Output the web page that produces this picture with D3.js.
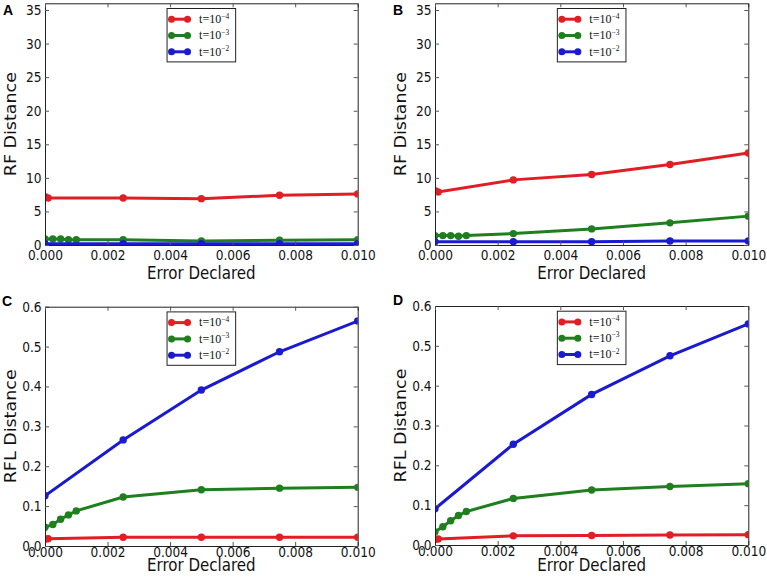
<!DOCTYPE html>
<html>
<head>
<meta charset="utf-8">
<script src="https://cdn.jsdelivr.net/npm/d3@7"></script>
<style>
  body { margin: 0; background: #fff; }
  svg { display: block; }
</style>
</head>
<body>
<svg id="chart" width="767" height="580"></svg>
<script>
// x positions (error declared) for each series
const xRed = [0, 0.0001, 0.0025, 0.005, 0.0075, 0.01]
const xGreen = [0, 0.00025, 0.0005, 0.00075, 0.001, 0.0025, 0.005, 0.0075, 0.01]
const xBlue = [0, 0.0025, 0.005, 0.0075, 0.01]

// A: RF distance
const aRed = [7.2, 7.0, 7.0, 6.9, 7.4, 7.6]
const aGreen = [0.9, 0.9, 0.9, 0.8, 0.8, 0.8, 0.6, 0.7, 0.8]
const aBlue = [0.2, 0.2, 0.2, 0.2, 0.2]
// B: RF distance
const bRed = [8.1, 7.9, 9.7, 10.5, 12.0, 13.7]
const bGreen = [1.4, 1.4, 1.4, 1.3, 1.4, 1.7, 2.4, 3.3, 4.3]
const bBlue = [0.5, 0.5, 0.5, 0.6, 0.6]
// C: RFL distance
const cRed = [0.017, 0.018, 0.022, 0.022, 0.022, 0.022]
const cGreen = [0.047, 0.054, 0.067, 0.078, 0.088, 0.123, 0.141, 0.145, 0.147]
const cBlue = [0.126, 0.266, 0.391, 0.487, 0.564]
// D: RFL distance
const dRed = [0.014, 0.015, 0.023, 0.024, 0.025, 0.026]
const dGreen = [0.033, 0.046, 0.061, 0.074, 0.084, 0.117, 0.138, 0.147, 0.154]
const dBlue = [0.091, 0.253, 0.378, 0.475, 0.555]

const xTicks = [0, 0.002, 0.004, 0.006, 0.008, 0.01]
const rfTicks = [0, 5, 10, 15, 20, 25, 30, 35]
const rflTicks = [0, 0.1, 0.2, 0.3, 0.4, 0.5, 0.6]
const legendExp = ["\u22124", "\u22123", "\u22122"]
const xLabel = "Error Declared"

const colors = ["#e01e24", "#1f7f1f", "#1a1ad0"]
const SQ = 0.87  // the source picture is a little squeezed horizontally

const panels = [
    {id: "A", left: 45, right: 357.7, top: 3.3, bottom: 245, ymax: 36, ticks: rfTicks, fmt: d3.format("d"),
        ylabel: "RF Distance", data: [aRed, aGreen, aBlue], letter: [3, 15], xlabY: 279, xpad: 5},
    {id: "B", left: 435, right: 748.3, top: 3.3, bottom: 245, ymax: 36, ticks: rfTicks, fmt: d3.format("d"),
        ylabel: "RF Distance", data: [bRed, bGreen, bBlue], letter: [393, 15], xlabY: 279, xpad: 5},
    {id: "C", left: 45, right: 357.7, top: 306.7, bottom: 546, ymax: 0.6, ticks: rflTicks, fmt: d3.format(".1f"),
        ylabel: "RFL Distance", data: [cRed, cGreen, cBlue], letter: [2, 306], xlabY: 571, xpad: 1},
    {id: "D", left: 435, right: 748.3, top: 306, bottom: 545, ymax: 0.6, ticks: rflTicks, fmt: d3.format(".1f"),
        ylabel: "RFL Distance", data: [dRed, dGreen, dBlue], letter: [393, 305], xlabY: 571, xpad: 1}
]

const svg = d3.select("#chart")
const xs = [xRed, xGreen, xBlue]

panels.forEach(p => {
    const x = d3.scaleLinear().domain([0, 0.01]).range([p.left, p.right])
    const y = d3.scaleLinear().domain([0, p.ymax]).range([p.bottom, p.top])
    const g = svg.append("g")

    //clip lines and markers to the axes box like matplotlib does
    g.append("clipPath").attr("id", "clip" + p.id)
        .append("rect").attr("x", p.left).attr("y", p.top)
        .attr("width", p.right - p.left).attr("height", p.bottom - p.top)

    const marks = g.append("g").attr("clip-path", "url(#clip" + p.id + ")")
    const line = d3.line().x(d => x(d[0])).y(d => y(d[1]))

    p.data.forEach((vals, i) => {
        const pts = vals.map((v, j) => [xs[i][j], v])
        marks.append("path").attr("d", line(pts))
            .attr("fill", "none").attr("stroke", colors[i]).attr("stroke-width", 3)
        marks.selectAll(null).data(pts).enter().append("circle")
            .attr("cx", d => x(d[0])).attr("cy", d => y(d[1])).attr("r", 3.7)
            .attr("fill", colors[i])
    })

    //axes, ticks inside on all four sides
    g.append("g").attr("transform", `translate(0,${p.bottom})`)
        .call(d3.axisBottom(x).tickValues(xTicks).tickFormat(d3.format(".3f"))
            .tickSizeInner(-4).tickSizeOuter(0).tickPadding(p.xpad))
    g.append("g").attr("transform", `translate(${p.left},0)`)
        .call(d3.axisLeft(y).tickValues(p.ticks).tickFormat(p.fmt)
            .tickSizeInner(-4).tickSizeOuter(0).tickPadding(4))
    g.append("g").attr("transform", `translate(0,${p.top})`)
        .call(d3.axisTop(x).tickValues(xTicks).tickFormat("").tickSizeInner(-4).tickSizeOuter(0))
    g.append("g").attr("transform", `translate(${p.right},0)`)
        .call(d3.axisRight(y).tickValues(p.ticks).tickFormat("").tickSizeInner(-4).tickSizeOuter(0))

    g.selectAll(".domain").attr("stroke", "#222")
    g.selectAll(".tick line").attr("stroke", "#555")
    g.selectAll(".tick text").attr("font-family", "DejaVu Sans").attr("font-size", 14)
        .attr("fill", "#111").attr("transform", `scale(${SQ},1)`)

    //axis labels
    g.append("text").attr("transform", `translate(${(p.left + p.right) / 2},${p.xlabY}) scale(${SQ},1)`)
        .attr("text-anchor", "middle").attr("font-family", "DejaVu Sans").attr("font-size", 17.3)
        .attr("fill", "#111").text(xLabel)
    g.append("text").attr("transform", `translate(${p.left - 29},${(p.top + p.bottom) / 2}) scale(${SQ},1) rotate(-90)`)
        .attr("text-anchor", "middle").attr("font-family", "DejaVu Sans").attr("font-size", 17.5)
        .attr("fill", "#111").text(p.ylabel)

    //panel letter
    g.append("text").attr("x", p.letter[0]).attr("y", p.letter[1])
        .attr("font-family", "Liberation Sans").attr("font-weight", "bold").attr("font-size", 14)
        .text(p.id)

    //legend, upper center
    const lw = 68.6, lh = 53.4
    const lx = (p.left + p.right) / 2 - lw / 2, ly = p.top + 5.2
    const leg = g.append("g").attr("transform", `translate(${lx},${ly})`)
    leg.append("rect").attr("width", lw).attr("height", lh)
        .attr("fill", "#fff").attr("stroke", "#222").attr("stroke-width", 1)
    legendExp.forEach((e, i) => {
        const ry = 10.7 + i * 16.3
        leg.append("line").attr("x1", 4.5).attr("x2", 20.5).attr("y1", ry).attr("y2", ry)
            .attr("stroke", colors[i]).attr("stroke-width", 3)
        leg.selectAll(null).data([4.5, 20.5]).enter().append("circle")
            .attr("cx", d => d).attr("cy", ry).attr("r", 3.5).attr("fill", colors[i])
        const t = leg.append("text").attr("x", 32).attr("y", ry + 3.8)
            .attr("font-family", "Liberation Serif").attr("font-size", 12).attr("fill", "#111")
        t.append("tspan").text("t=10")
        t.append("tspan").attr("dy", -4.5).attr("font-size", 7.5).text(e)
    })
})
</script>
</body>
</html>
